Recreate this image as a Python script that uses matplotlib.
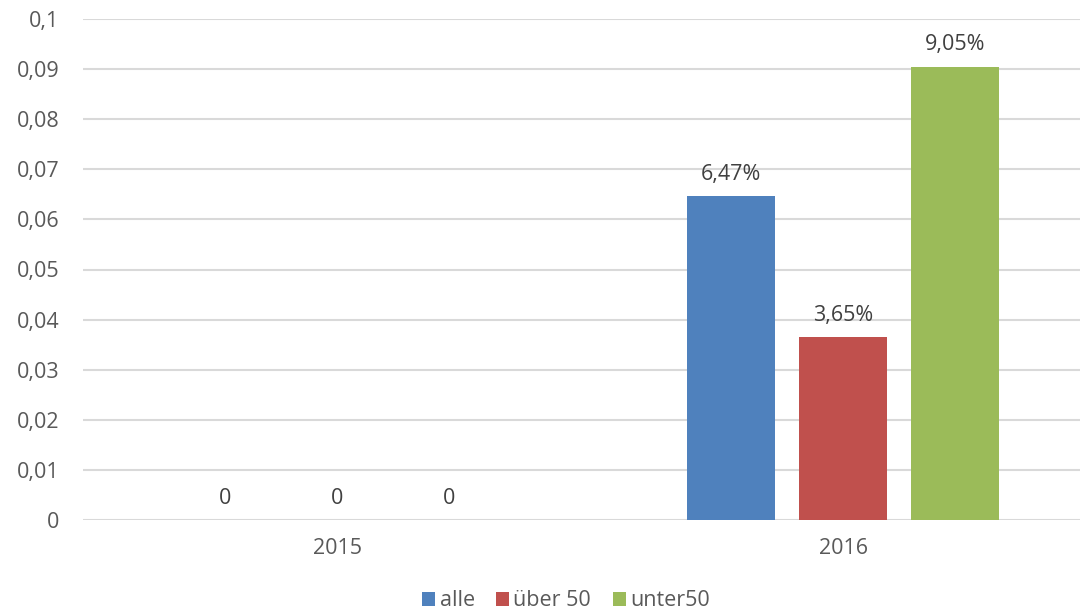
import matplotlib
matplotlib.use("Agg")
import matplotlib.pyplot as plt
import numpy as np

categories = ["2015", "2016"]
series_names = ["alle", "über 50", "unter50"]
alle = [0, 0.0647]
ueber50 = [0, 0.0365]
unter50 = [0, 0.0905]
labels_alle = ["0", "6,47%"]
labels_ueber50 = ["0", "3,65%"]
labels_unter50 = ["0", "9,05%"]
yticks = [0, 0.01, 0.02, 0.03, 0.04, 0.05, 0.06, 0.07, 0.08, 0.09, 0.1]
ytick_labels = ["0", "0,01", "0,02", "0,03", "0,04", "0,05", "0,06", "0,07", "0,08", "0,09", "0,1"]

colors = ["#4f81bd", "#c0504d", "#9bbb59"]

plt.rcParams['font.family'] = ['Open Sans', 'DejaVu Sans']
FS = 15.5

fig = plt.figure(figsize=(10.8, 6.13), dpi=100)
W, H = 1080, 613
ax = fig.add_axes([83 / W, 1 - 520 / H, 1012 / W, (520 - 19) / H])

x = np.arange(len(categories))
offset = 0.2213
width = 0.174
all_series = [alle, ueber50, unter50]
all_labels = [labels_alle, labels_ueber50, labels_unter50]
for i, (vals, labs, c, name) in enumerate(zip(all_series, all_labels, colors, series_names)):
    pos = x + (i - 1) * offset
    bars = ax.bar(pos, vals, width, color=c, label=name, zorder=3)
    for b, v, lab in zip(bars, vals, labs):
        ax.annotate(lab, (b.get_x() + b.get_width() / 2, v), xytext=(0, 8),
                    textcoords="offset points", ha="center", va="bottom",
                    fontsize=FS, color="#404040")

ax.set_xlim(-0.502, 1.498)
ax.set_ylim(0, 0.1)
ax.set_yticks(yticks)
ax.set_yticklabels(ytick_labels)
ax.set_xticks(x)
ax.set_xticklabels(categories)
ax.tick_params(axis="both", length=0, labelsize=FS, labelcolor="#595959")
ax.tick_params(axis="y", pad=17)
ax.tick_params(axis="x", pad=13)
ax.grid(axis="y", color="#d9d9d9", linewidth=1.5, zorder=0)
for s in ax.spines.values():
    s.set_visible(False)

leg = fig.legend(loc="center", bbox_to_anchor=(566 / W, 1 - 601 / H), ncol=3,
                 frameon=False, fontsize=FS, handlelength=0.6, handleheight=0.6,
                 handletextpad=0.2, columnspacing=1.0, borderpad=0)
for t in leg.get_texts():
    t.set_color("#595959")

fig.savefig("out.png", dpi=100)
